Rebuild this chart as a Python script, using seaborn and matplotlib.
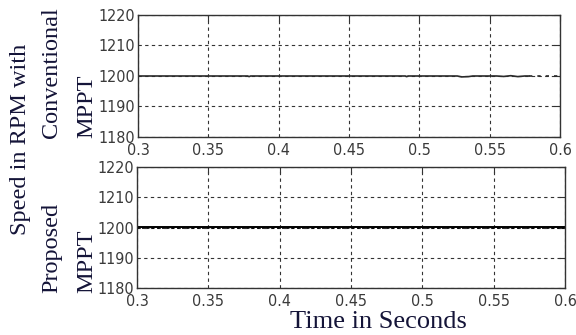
import matplotlib
matplotlib.use("Agg")
import matplotlib.pyplot as plt
import seaborn as sns
import pandas as pd

# ---- data ----
t_conv = [0.300, 0.378, 0.379, 0.380, 0.490, 0.491, 0.492, 0.527, 0.530,
          0.535, 0.538, 0.555, 0.560, 0.565, 0.570, 0.575, 0.578]
rpm_conv = [1200, 1200, 1199.8, 1200, 1200, 1199.8, 1200, 1200, 1199.7,
            1199.8, 1200, 1200, 1199.85, 1200.1, 1199.8, 1200, 1200]
t_conv_tail = [0.578, 0.600]
rpm_conv_tail = [1200, 1200]

t_prop = [0.30, 0.60]
rpm_prop = [1200.15, 1200.15]
rpm_prop_ripple = [1199.85, 1199.85]

x_ticks = [0.3, 0.35, 0.4, 0.45, 0.5, 0.55, 0.6]
x_ticklabels = ["0.3", "0.35", "0.4", "0.45", "0.5", "0.55", "0.6"]
y_ticks = [1180, 1190, 1200, 1210, 1220]
y_ticklabels = ["1180", "1190", "1200", "1210", "1220"]

sns.set_style("white")
plt.rcParams['font.family'] = ['Liberation Sans Narrow', 'DejaVu Sans', 'Liberation Sans']
plt.rcParams['font.stretch'] = 'condensed'

fig = plt.figure(figsize=(5.76, 3.35), dpi=100)
ax1 = fig.add_axes([138/576, 1-137/335, 422/576, 122/335])
ax2 = fig.add_axes([137/576, 1-288/335, 428/576, 121/335])

df_c = pd.DataFrame({"t": t_conv, "rpm": rpm_conv})
df_ct = pd.DataFrame({"t": t_conv_tail, "rpm": rpm_conv_tail})
df_p = pd.DataFrame({"t": t_prop, "rpm": rpm_prop})
df_pr = pd.DataFrame({"t": t_prop, "rpm": rpm_prop_ripple})

sns.lineplot(data=df_c, x="t", y="rpm", ax=ax1, color="#2a2a2a", lw=1.2, estimator=None, sort=False)
sns.lineplot(data=df_ct, x="t", y="rpm", ax=ax1, color="#2a2a2a", lw=1.2,
             estimator=None, sort=False, linestyle=(0, (2, 3)))
sns.lineplot(data=df_p, x="t", y="rpm", ax=ax2, color="black", lw=1.4, estimator=None)
sns.lineplot(data=df_pr, x="t", y="rpm", ax=ax2, color="black", lw=1.2,
             estimator=None, linestyle=(0, (1.5, 1.5)))

tick_color = "#3a3a3a"
for ax in (ax1, ax2):
    ax.set_xlim(0.3, 0.6)
    ax.set_ylim(1180, 1220)
    ax.set_xticks(x_ticks)
    ax.set_xticklabels(x_ticklabels)
    ax.set_yticks(y_ticks)
    ax.set_yticklabels(y_ticklabels)
    ax.set_xlabel("")
    ax.set_ylabel("")
    ax.grid(True, color="#333333", linestyle=(0, (3, 3)), linewidth=0.8)
    ax.tick_params(direction="in", length=4, width=0.8, colors="#333333",
                   labelsize=11.5, labelcolor=tick_color,
                   top=True, right=True)
    ax.tick_params(axis="y", pad=2)
    ax.tick_params(axis="x", pad=4)
    for s in ax.spines.values():
        s.set_color("#333333")
        s.set_linewidth(1.0)
        s.set_visible(True)

lab_color = "#141438"
serif = ['Liberation Serif', 'DejaVu Serif']
fs = 17.5
kw = dict(rotation=90, ha="center", fontsize=fs, family=serif, color=lab_color,
          fontstretch='normal')
fig.text(21/576, 1-139/335, "Speed in RPM with", va="center", **kw)
fig.text(52/576, 1-138/335, "Conventional", va="bottom", **kw)
fig.text(87/576, 1-138/335, "MPPT", va="bottom", **kw)
fig.text(52/576, 1-293/335, "Proposed", va="bottom", **kw)
fig.text(87/576, 1-293/335, "MPPT", va="bottom", **kw)
fig.text(378/576, 1-322/335, "Time in Seconds", ha="center", va="center",
         fontsize=19, family=serif, color=lab_color, fontstretch='normal')

fig.savefig("out.png", dpi=100)
